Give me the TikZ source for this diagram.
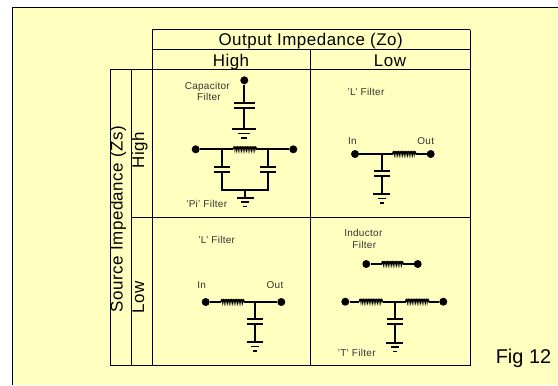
\documentclass[tikz,border=0pt]{standalone}
\usepackage{fontspec}
\setmainfont{Liberation Sans}[LetterSpace=3]
\newfontfamily\figfont{Liberation Sans}
\usetikzlibrary{decorations.pathmorphing}
\definecolor{panelcol}{rgb}{1.0,1.0,0.75}
\definecolor{labelcol}{rgb}{0.2,0.2,0.2}
\tikzset{
  wire/.style={line width=1.7bp},
  coilwire/.style={line width=1.2bp,decorate,decoration={bumps,amplitude=2.4bp,segment length=3.3bp}},
  rule/.style={line width=0.9bp},
  termdot/.style={circle,fill=black,inner sep=0pt,minimum size=8bp},
  capplate/.style={rectangle,fill=black,inner sep=0pt,minimum height=1.7bp,minimum width=#1},
  capplate/.default=16bp,
  smalllabel/.style={text=labelcol,inner sep=0pt,text height=7bp,text depth=0pt,font=\fontsize{10}{12}\selectfont},
  headlabel/.style={inner sep=0pt,text height=12bp,text depth=0pt,font=\fontsize{17}{20}\selectfont},
}
% ground symbol: name, position, half width of the top bar
\newcommand\groundat[3]{
  \node[capplate=#3*2bp] (#1) at #2 {};
  \node[capplate=#3*1bp,below=3.4bp] at (#1) {};
  \node[capplate=#3*0.5bp,below=7.8bp] at (#1) {};
}
\begin{document}
\begin{tikzpicture}[x=1bp,y=-1bp]
  \useasboundingbox (0,0) rectangle (558,385);
  % Panel
  \fill[panelcol] (12.5,7.5) rectangle (558,385);
  \draw[line width=1bp] (558,7.5) -- (12.5,7.5) -- (12.5,385);
  % Table
  \draw[rule] (152,29.5) -- (470.3,29.5);
  \draw[rule] (152,49.5) -- (470.3,49.5);
  \draw[rule] (110,69.5) -- (470.3,69.5);
  \draw[rule] (131,217.5) -- (470.3,217.5);
  \draw[rule] (110,365.5) -- (470.3,365.5);
  \draw[rule] (110,69.5) -- (110,365.5);
  \draw[rule] (131,69.5) -- (131,365.5);
  \draw[rule] (152,29.5) -- (152,365.5);
  \draw[rule] (310.7,49.5) -- (310.7,365.5);
  \draw[rule] (470.3,29.5) -- (470.3,365.5);
  % Headers
  \node[headlabel] (zo) at (310.7,39.8) {Output Impedance (Zo)};
  \node[headlabel] (zohigh) at (231,60) {High};
  \node[headlabel] (zolow) at (390,60.6) {Low};
  \node[headlabel,rotate=90] (zs) at (116.7,219) {Source Impedance (Zs)};
  \node[headlabel,rotate=90] (zshigh) at (138,150.3) {High};
  \node[headlabel,rotate=90] (zslow) at (138,297) {Low};
  \node[inner sep=0pt,text height=14.3bp,text depth=0pt,font=\figfont\fontsize{20}{24}\selectfont] (fig) at (523.5,356) {Fig 12};

  % Capacitor filter
  \node[smalllabel] (caplabela) at (207.3,85.7) {Capacitor};
  \node[smalllabel] (caplabelb) at (209,97.3) {Filter};
  \node[termdot] (capin) at (244.3,80.3) {};
  \node[capplate=21.4bp] (capa) at (244.3,102.7) {};
  \node[capplate=21.4bp] (capb) at (244.3,107.7) {};
  \groundat{capgnd}{(244.3,129)}{12}
  \draw[wire] (capin) -- (capa);
  \draw[wire] (capb) -- (capgnd);

  % Pi filter
  \node[smalllabel] (pilabel) at (206.7,204.3) {'Pi' Filter};
  \node[termdot] (piin) at (195.7,149.3) {};
  \node[termdot] (piout) at (293.3,149.3) {};
  \coordinate (pijl) at (221.7,149.3);
  \coordinate (pijr) at (268.3,149.3);
  \coordinate (picoila) at (233.3,149.3);
  \coordinate (picoilb) at (257.3,149.3);
  \node[capplate] (pila) at (221.7,167) {};
  \node[capplate] (pilb) at (221.7,171.7) {};
  \node[capplate] (pira) at (268.3,167) {};
  \node[capplate] (pirb) at (268.3,171.7) {};
  \coordinate (pibl) at (221.7,189.7);
  \coordinate (pibr) at (268.3,189.7);
  \coordinate (pibm) at (245.3,189.7);
  \groundat{pignd}{(245.3,197.7)}{8.3}
  \draw[wire] (piin) -- (picoila);
  \draw[coilwire] (picoila) -- (picoilb);
  \draw[wire] (picoilb) -- (piout);
  \draw[wire] (pijl) -- (pila);
  \draw[wire] (pijr) -- (pira);
  \draw[wire] (pilb) -- (pibl) -- (pibr) -- (pirb);
  \draw[wire] (pibm) -- (pignd);

  % L filter, top right
  \node[smalllabel] (llabel) at (366,91.7) {'L' Filter};
  \node[smalllabel] (lintext) at (352.3,140.7) {In};
  \node[smalllabel] (louttext) at (425.7,140.7) {Out};
  \node[termdot] (lin) at (355,154) {};
  \node[termdot] (lout) at (430.7,154) {};
  \coordinate (lj) at (381.7,154);
  \coordinate (lcoila) at (392.7,154);
  \coordinate (lcoilb) at (416,154);
  \node[capplate] (lcapa) at (381.7,171) {};
  \node[capplate] (lcapb) at (381.7,175.7) {};
  \groundat{lgnd}{(381.7,194)}{8.3}
  \draw[wire] (lin) -- (lcoila);
  \draw[coilwire] (lcoila) -- (lcoilb);
  \draw[wire] (lcoilb) -- (lout);
  \draw[wire] (lj) -- (lcapa);
  \draw[wire] (lcapb) -- (lgnd);

  % L filter, bottom left
  \node[smalllabel] (mlabel) at (216.7,239.7) {'L' Filter};
  \node[smalllabel] (mintext) at (201.7,284.7) {In};
  \node[smalllabel] (mouttext) at (275,284.7) {Out};
  \node[termdot] (min) at (205.7,302) {};
  \node[termdot] (mout) at (281.3,302) {};
  \coordinate (mj) at (255,302);
  \coordinate (mcoila) at (221,302);
  \coordinate (mcoilb) at (244.3,302);
  \node[capplate] (mcapa) at (255,319.3) {};
  \node[capplate] (mcapb) at (255,323.7) {};
  \groundat{mgnd}{(255,342)}{8.3}
  \draw[wire] (min) -- (mcoila);
  \draw[coilwire] (mcoila) -- (mcoilb);
  \draw[wire] (mcoilb) -- (mout);
  \draw[wire] (mj) -- (mcapa);
  \draw[wire] (mcapb) -- (mgnd);

  % Inductor filter
  \node[smalllabel] (indlabela) at (363.3,232.7) {Inductor};
  \node[smalllabel] (indlabelb) at (364.3,245.3) {Filter};
  \node[termdot] (indin) at (366.3,264) {};
  \node[termdot] (indout) at (417.7,264) {};
  \coordinate (indcoila) at (381.7,264);
  \coordinate (indcoilb) at (403.3,264);
  \draw[wire] (indin) -- (indcoila);
  \draw[coilwire] (indcoila) -- (indcoilb);
  \draw[wire] (indcoilb) -- (indout);

  % T filter
  \node[smalllabel] (tlabel) at (356.7,352.7) {'T' Filter};
  \node[termdot] (tin) at (345.3,301.7) {};
  \node[termdot] (tout) at (443.3,301.7) {};
  \coordinate (tj) at (394.7,301.7);
  \coordinate (tcoila) at (359.3,301.7);
  \coordinate (tcoilb) at (383.3,301.7);
  \coordinate (tcoilc) at (405.7,301.7);
  \coordinate (tcoild) at (429.3,301.7);
  \node[capplate] (tcapa) at (394.7,319.3) {};
  \node[capplate] (tcapb) at (394.7,324.3) {};
  \groundat{tgnd}{(394.7,342.7)}{8.3}
  \draw[wire] (tin) -- (tcoila);
  \draw[coilwire] (tcoila) -- (tcoilb);
  \draw[wire] (tcoilb) -- (tcoilc);
  \draw[coilwire] (tcoilc) -- (tcoild);
  \draw[wire] (tcoild) -- (tout);
  \draw[wire] (tj) -- (tcapa);
  \draw[wire] (tcapb) -- (tgnd);
\end{tikzpicture}
\end{document}
